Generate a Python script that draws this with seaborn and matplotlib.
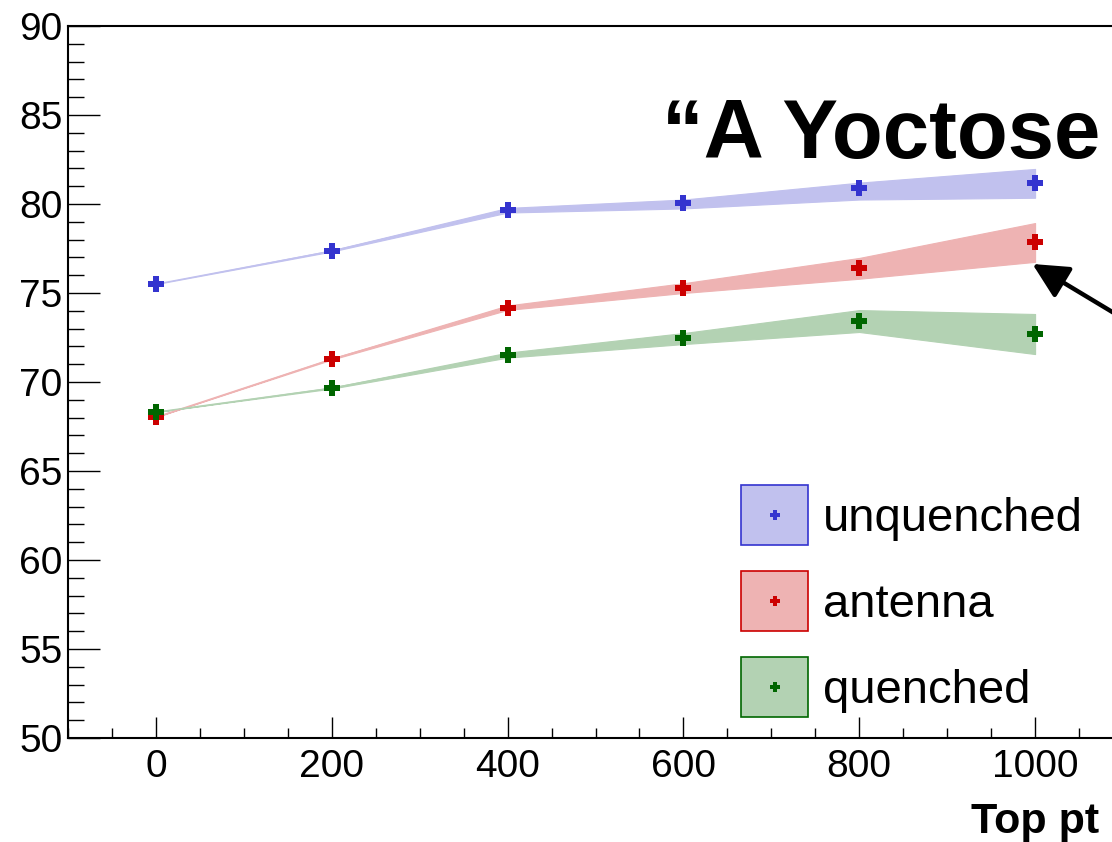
import numpy as np
import pandas as pd
import matplotlib
matplotlib.use("Agg")
import matplotlib.pyplot as plt
from matplotlib.patches import Patch, Rectangle
from matplotlib.lines import Line2D
from matplotlib.ticker import MultipleLocator
import seaborn as sns

# Top pt scan points
top_pt = [0, 200, 400, 600, 800, 1000]

# Central values
unquenched = [75.5, 77.36, 79.66, 80.06, 80.9, 81.18]
antenna = [68.03, 71.29, 74.16, 75.28, 76.4, 77.87]
quenched = [68.31, 69.66, 71.52, 72.47, 73.43, 72.70]

# Uncertainty bands (low, high)
unquenched_lo = [75.5, 77.33, 79.52, 79.75, 80.25, 80.35]
unquenched_hi = [75.5, 77.40, 79.78, 80.25, 81.20, 81.97]
antenna_lo = [68.03, 71.26, 74.05, 75.00, 75.80, 76.75]
antenna_hi = [68.03, 71.32, 74.30, 75.55, 76.97, 78.93]
quenched_lo = [68.31, 69.63, 71.37, 72.13, 72.81, 71.57]
quenched_hi = [68.31, 69.69, 71.65, 72.75, 74.04, 73.82]

labels = ["unquenched", "antenna", "quenched"]
centers = [unquenched, antenna, quenched]
lows = [unquenched_lo, antenna_lo, quenched_lo]
highs = [unquenched_hi, antenna_hi, quenched_hi]
line_colors = ["#3434cf", "#cc0000", "#006600"]
fill_colors = ["#c1c1ee", "#eeb3b3", "#b3d2b3"]


class BoxWithMarker:
    """Legend entry: filled, outlined box with a plus marker at its centre."""

    def legend_artist(self, legend, orig_handle, fontsize, handlebox):
        x0, y0 = handlebox.xdescent, handlebox.ydescent
        w, h = handlebox.width, handlebox.height
        tr = handlebox.get_transform()
        rect = Rectangle((-x0, -y0), w, h, facecolor=orig_handle.get_facecolor(),
                         edgecolor=orig_handle.get_edgecolor(), linewidth=1.2,
                         transform=tr)
        mk = Line2D([-x0 + w / 2], [-y0 + h / 2], marker="P", linestyle="",
                    color=orig_handle.get_edgecolor(), markersize=7.5,
                    markeredgewidth=0, transform=tr)
        handlebox.add_artist(rect)
        handlebox.add_artist(mk)
        return rect


sns.set_theme(style="white")
plt.rcParams["font.family"] = ["Liberation Sans", "DejaVu Sans"]
plt.rcParams["text.color"] = "black"
plt.rcParams["xtick.color"] = "black"
plt.rcParams["ytick.color"] = "black"

fig = plt.figure(figsize=(11.12, 8.42), dpi=100)
ax = fig.add_axes([68 / 1112, 1 - 738 / 842, (1123 - 68) / 1112, (738 - 26) / 842])

rows = []
for name, c, lo, hi in zip(labels, centers, lows, highs):
    for x, v, l, h in zip(top_pt, c, lo, hi):
        rows.append({"top_pt": x, "value": v, "lo": l, "hi": h, "sample": name})
df = pd.DataFrame(rows)

for name, fc, lc in zip(labels, fill_colors, line_colors):
    sub = df[df["sample"] == name]
    ax.fill_between(sub["top_pt"], sub["lo"], sub["hi"], color=fc,
                    edgecolor=fc, linewidth=0.8, zorder=1)
    sns.lineplot(data=sub, x="top_pt", y="value", color=fc, linewidth=0.9,
                 ax=ax, zorder=2, legend=False)
    sns.lineplot(data=sub, x="top_pt", y="value", color=lc, linestyle="",
                 marker="P", markersize=12, markeredgewidth=0,
                 ax=ax, zorder=3, legend=False)

ax.set_xlim(-100, 1100)
ax.set_ylim(50, 90)
ax.set_xlabel("")
ax.set_ylabel("")

ax.xaxis.set_major_locator(MultipleLocator(200))
ax.xaxis.set_minor_locator(MultipleLocator(50))
ax.yaxis.set_major_locator(MultipleLocator(5))
ax.yaxis.set_minor_locator(MultipleLocator(1))
ax.tick_params(axis="x", which="major", direction="in", length=15, width=1.0,
               labelsize=28, pad=8, colors="black", bottom=True)
ax.tick_params(axis="x", which="minor", direction="in", length=7, width=1.0,
               colors="black", bottom=True)
ax.tick_params(axis="y", which="major", direction="in", length=23, width=1.0,
               labelsize=28, pad=4, colors="black", left=True)
ax.tick_params(axis="y", which="minor", direction="in", length=11.5, width=1.0,
               colors="black", left=True)
for s in ax.spines.values():
    s.set_color("black")
    s.set_linewidth(1.5)

# Headline inside the frame
ax.text(576, 82.58, "\u201cA Yoctose", fontsize=60, fontweight="bold",
        ha="left", va="baseline", color="black", zorder=5)

# Arrow pointing at the antenna band
ax.annotate("", xy=(997, 76.63), xytext=(1190, 70.9),
            arrowprops=dict(arrowstyle="-|>,head_length=1.8,head_width=0.9",
                            color="black", lw=3.2, shrinkA=0, shrinkB=0),
            annotation_clip=False, zorder=6)

# Legend: filled box with the marker in the middle
handles = [Patch(facecolor=fc, edgecolor=lc) for fc, lc in zip(fill_colors, line_colors)]
fig.legend(handles, labels, handler_map={Patch: BoxWithMarker()},
           loc="upper left", bbox_to_anchor=(741 / 1112, 1 - 485 / 842),
           bbox_transform=fig.transFigure, frameon=False, fontsize=34,
           borderpad=0, borderaxespad=0, handlelength=1.42, handleheight=1.58,
           handletextpad=0.32, labelspacing=0.55, labelcolor="black")

fig.text(1099 / 1112, 1 - 833 / 842, "Top pt", fontsize=31, fontweight="bold",
         ha="right", va="baseline", color="black")

fig.savefig("out.png", dpi=100, facecolor="white")
